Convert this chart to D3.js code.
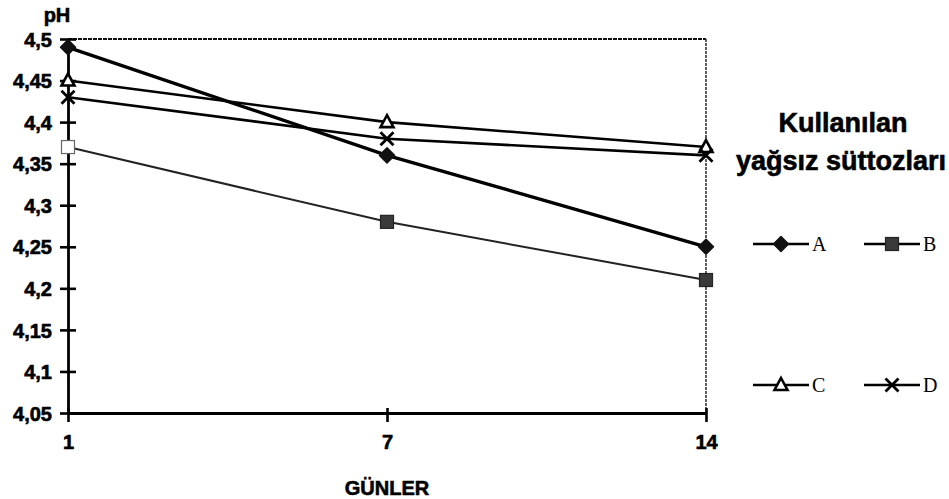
<!DOCTYPE html>
<html>
<head>
<meta charset="utf-8">
<script src="https://cdn.jsdelivr.net/npm/d3@7"></script>
<style>
  html, body { margin: 0; padding: 0; background: #fff; }
  svg { display: block; }
</style>
</head>
<body>
<svg id="chart" width="949" height="499"></svg>
<script>
const days = ["1", "7", "14"];
const seriesNames = ["A", "B", "C", "D"];
const valuesA = [4.49, 4.36, 4.25];
const valuesB = [4.37, 4.28, 4.21];
const valuesC = [4.45, 4.40, 4.37];
const valuesD = [4.43, 4.38, 4.36];
const yTicks = [4.05, 4.1, 4.15, 4.2, 4.25, 4.3, 4.35, 4.4, 4.45, 4.5];
const yTickLabels = ["4,05", "4,1", "4,15", "4,2", "4,25", "4,3", "4,35", "4,4", "4,45", "4,5"];
const yTitle = "pH";
const xTitle = "GÜNLER";
const legendTitle = ["Kullanılan", "yağsız süttozları"];

const series = [
  { name: "A", values: valuesA, marker: "diamond", width: 3.4 },
  { name: "B", values: valuesB, marker: "square", width: 2 },
  { name: "C", values: valuesC, marker: "triangle", width: 2.6 },
  { name: "D", values: valuesD, marker: "cross", width: 2.6 }
];

const svg = d3.select("#chart");
const mLeft = 68, mRight = 706, mTop = 39, mBottom = 413;
const x = d3.scalePoint().domain(days).range([mLeft, mRight]);
const y = d3.scaleLinear().domain([4.05, 4.5]).range([mBottom, mTop]);

const labelFont = "'Liberation Sans', Arial, sans-serif";
function boldText(sel, size) {
  return sel.attr("font-family", labelFont).attr("font-weight", "bold")
    .attr("font-size", size).attr("fill", "#000")
    .attr("stroke", "#000").attr("stroke-width", 0.6);
}

// plot border top & right (dotted)
svg.append("line").attr("x1", mLeft).attr("x2", mRight).attr("y1", mTop).attr("y2", mTop)
  .attr("stroke", "#111").attr("stroke-width", 2).attr("stroke-dasharray", "4,1");
svg.append("line").attr("x1", mRight).attr("x2", mRight).attr("y1", mTop).attr("y2", mBottom)
  .attr("stroke", "#333").attr("stroke-width", 1.6).attr("stroke-dasharray", "3,1");

// y axis
const yAxis = d3.axisLeft(y).tickValues(yTicks)
  .tickFormat((d, i) => yTickLabels[i]).tickSize(0).tickPadding(16);
const gy = svg.append("g").attr("transform", `translate(${mLeft},0)`).call(yAxis);
gy.select(".domain").attr("stroke", "#000").attr("stroke-width", 2.8);
gy.selectAll(".tick line").attr("x1", -8).attr("x2", 8).attr("stroke", "#000").attr("stroke-width", 2.6);
boldText(gy.selectAll(".tick text"), 20).attr("dy", "0.36em");

// x axis
const xAxis = d3.axisBottom(x).tickSize(0).tickPadding(22);
const gx = svg.append("g").attr("transform", `translate(0,${mBottom})`).call(xAxis);
gx.select(".domain").attr("stroke", "#000").attr("stroke-width", 2.8);
gx.selectAll(".tick line").attr("y1", -5).attr("y2", 9).attr("stroke", "#000").attr("stroke-width", 2.6);
boldText(gx.selectAll(".tick text"), 20);

// titles
boldText(svg.append("text").attr("x", 57).attr("y", 22).attr("text-anchor", "middle"), 20).text(yTitle);
boldText(svg.append("text").attr("x", (mLeft + mRight) / 2).attr("y", 495).attr("text-anchor", "middle"), 20).text(xTitle);

// markers
function drawMarker(g, type, cx, cy, fill) {
  if (type === "diamond") {
    g.append("path").attr("d", `M${cx},${cy - 7.5}L${cx + 7.5},${cy}L${cx},${cy + 7.5}L${cx - 7.5},${cy}Z`)
      .attr("fill", "#111").attr("stroke", "#111").attr("stroke-width", 1.5).attr("stroke-linejoin", "round");
  } else if (type === "square") {
    g.append("rect").attr("x", cx - 6.5).attr("y", cy - 6.5).attr("width", 13).attr("height", 13)
      .attr("fill", fill || "#3a3a3a").attr("stroke", fill === "#fff" ? "#666" : "#222").attr("stroke-width", 1.2);
  } else if (type === "triangle") {
    g.append("path").attr("d", `M${cx},${cy - 7}L${cx + 6.5},${cy + 5}L${cx - 6.5},${cy + 5}Z`)
      .attr("fill", "#fff").attr("stroke", "#000").attr("stroke-width", 2.6);
  } else if (type === "cross") {
    g.append("path").attr("d", `M${cx - 6.5},${cy - 6.5}L${cx + 6.5},${cy + 6.5}M${cx + 6.5},${cy - 6.5}L${cx - 6.5},${cy + 6.5}`)
      .attr("stroke", "#000").attr("stroke-width", 2.8).attr("fill", "none");
  }
}

const line = d3.line().x((d, i) => x(days[i])).y(d => y(d));
const plot = svg.append("g");
series.forEach(s => {
  plot.append("path").datum(s.values).attr("d", line)
    .attr("fill", "none").attr("stroke", s.name === "B" ? "#222" : "#000").attr("stroke-width", s.width);
});
series.forEach(s => {
  s.values.forEach((v, i) => {
    const fill = (s.name === "B" && i === 0) ? "#fff" : null;
    drawMarker(plot, s.marker, x(days[i]), y(v), fill);
  });
});

// legend
boldText(svg.append("text").attr("x", 843).attr("y", 132).attr("text-anchor", "middle"), 27).text(legendTitle[0]);
boldText(svg.append("text").attr("x", 841).attr("y", 170).attr("text-anchor", "middle"), 27).text(legendTitle[1]);

const legendPos = [
  { x: 753, y: 244 }, { x: 864, y: 244 }, { x: 753, y: 385 }, { x: 864, y: 385 }
];
series.forEach((s, i) => {
  const p = legendPos[i];
  const g = svg.append("g");
  g.append("line").attr("x1", p.x).attr("x2", p.x + 56).attr("y1", p.y).attr("y2", p.y)
    .attr("stroke", "#000").attr("stroke-width", 2.6);
  drawMarker(g, s.marker, p.x + 28, p.y, null);
  g.append("text").attr("x", p.x + 59).attr("y", p.y + 7)
    .attr("font-family", "'Liberation Serif', 'Times New Roman', serif").attr("font-size", 20).text(s.name);
});
</script>
</body>
</html>
